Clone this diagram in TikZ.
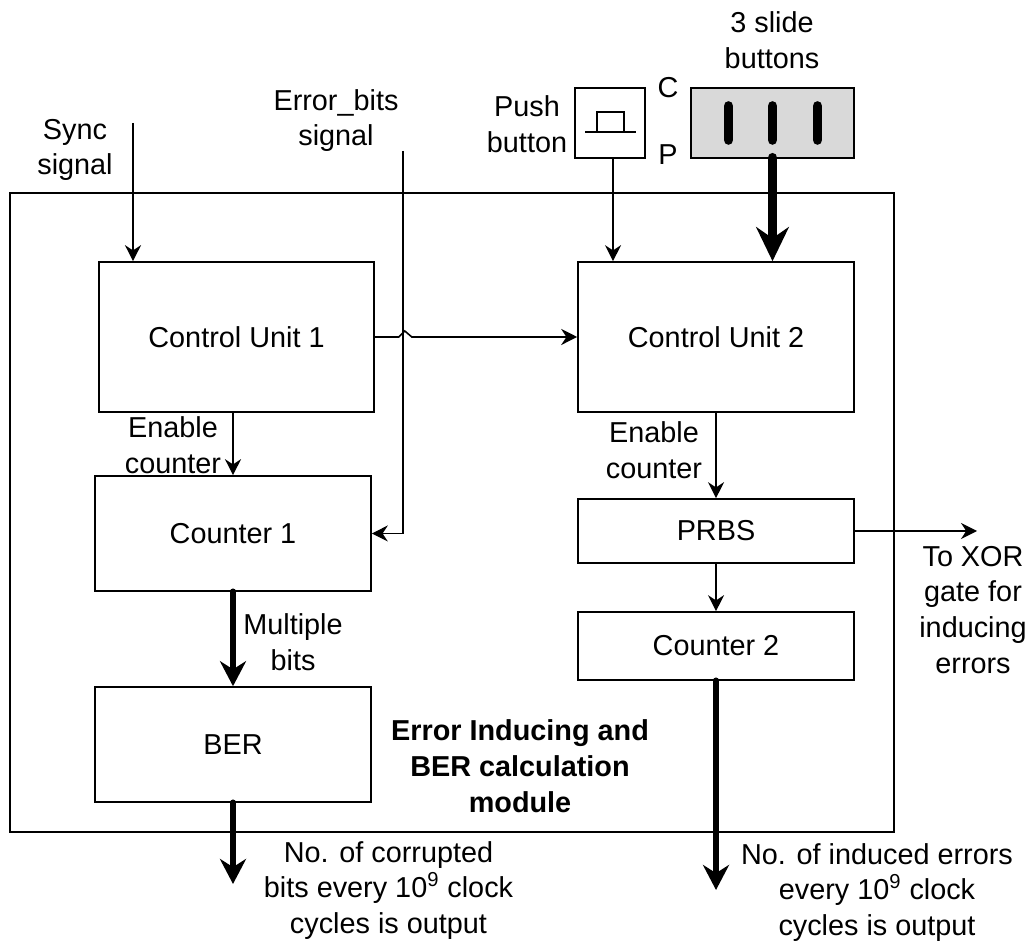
\documentclass[tikz,border=0pt]{standalone}
\usepackage{fontspec}
\setmainfont{Liberation Sans}
\usepackage{tikz}
\usetikzlibrary{calc}
\usetikzlibrary{arrows.meta}
\tikzstyle{blocknode}=[black, draw=black, line width=0.9pt, shape=rectangle, fill=white, inner sep=0pt, align=center, font=\fontsize{16.4}{20.4}\selectfont]
\tikzstyle{textnode}=[black, shape=rectangle, inner sep=0pt, align=center, font=\fontsize{16.4}{20.4}\selectfont]
\tikzstyle{thinarrow}=[-{Stealth[length=0.32cm, width=0.32cm]}, line width=0.9pt, color=black]
\tikzstyle{thickarrow}=[-{Stealth[length=0.5cm, width=0.52cm]}, line width=3.8pt, line cap=round, color=black]
\tikzstyle{slidearrow}=[-{Stealth[length=0.68cm, width=0.65cm]}, line width=5.5pt, line cap=round, color=black]
\tikzstyle{slidebar}=[line width=5.5pt, line cap=round, color=black]

\begin{document}
\begin{tikzpicture}
\useasboundingbox (0,0) rectangle (20.62,18.8);

\node [blocknode, minimum width=17.68cm, minimum height=12.78cm] (module) at (9.04,8.55) {};
\node [blocknode, minimum width=5.5cm, minimum height=3cm] (cu1) at (4.73,12.06) {Control Unit 1};
\node [blocknode, minimum width=5.52cm, minimum height=3cm] (cu2) at (14.32,12.06) {Control Unit 2};
\node [blocknode, minimum width=5.52cm, minimum height=2.3cm] (counter1) at (4.66,8.13) {Counter 1};
\node [blocknode, minimum width=5.52cm, minimum height=2.3cm] (ber) at (4.66,3.91) {BER};
\node [blocknode, minimum width=5.52cm, minimum height=1.28cm] (prbs) at (14.32,8.18) {PRBS};
\node [blocknode, minimum width=5.52cm, minimum height=1.36cm] (counter2) at (14.32,5.88) {Counter 2};
\node [blocknode, line width=1.4pt, minimum width=1.4cm, minimum height=1.4cm] (push) at (12.2,16.34) {};
\node [blocknode, fill=black!15!white, minimum width=3.26cm, minimum height=1.4cm] (slide) at (15.45,16.34) {};

\coordinate (syncin) at (2.66,16.34);
\coordinate (errin) at (8.06,15.78);
\coordinate (pushout) at ($(push.south)+(0.06,0)$);
\coordinate (slideout) at ($(slide.south)+(0,0.02)$);
\coordinate (berout) at (4.66,1.12);
\coordinate (cntout) at (14.32,1.0);
\coordinate (xorout) at (19.54,8.18);

\draw[line width=1.2pt] ($(push.center)+(-0.5,-0.18)$) -- ($(push.center)+(0.52,-0.18)$);
\draw[line width=1.2pt] ($(push.center)+(-0.26,-0.18)$) -- ($(push.center)+(-0.26,0.22)$) -- ($(push.center)+(0.28,0.22)$) -- ($(push.center)+(0.28,-0.18)$);
\draw[slidebar] ($(slide.center)+(-0.88,-0.34)$) -- ($(slide.center)+(-0.88,0.34)$);
\draw[slidebar] ($(slide.center)+(0,-0.34)$) -- ($(slide.center)+(0,0.34)$);
\draw[slidebar] ($(slide.center)+(0.9,-0.34)$) -- ($(slide.center)+(0.9,0.34)$);

\draw[thinarrow] (syncin) -- (syncin |- cu1.north);
\draw[thinarrow, line width=0.7pt] (errin) |- (counter1.east);
\draw[thinarrow] (pushout) -- (pushout |- cu2.north);
\draw[slidearrow] (slideout) -- (slideout |- cu2.north);
\draw[thinarrow] (cu1.east) -- ++(0.48,0) -- ++(0.12,0.12) -- ++(0.14,-0.12) -- (cu2.west);
\draw[thinarrow] (counter1.north |- cu1.south) -- (counter1.north);
\draw[thickarrow] (counter1.south) -- (ber.north);
\draw[thickarrow] (ber.south) -- (berout);
\draw[thinarrow] (cu2.south) -- (prbs.north);
\draw[thinarrow] (prbs.south) -- (counter2.north);
\draw[thinarrow] (prbs.east) -- (xorout);
\draw[thickarrow] (counter2.south) -- (cntout);

\node [textnode] (synclabel) at (1.5,15.8) {Sync\\signal};
\node [textnode] (errlabel) at (6.72,16.39) {Error\_bits\\signal};
\node [textnode] (pushlabel) at (10.54,16.32) {Push\\button};
\node [textnode] (clabel) at (13.36,17.04) {C};
\node [textnode] (plabel) at (13.36,15.7) {P};
\node [textnode] (slidelabel) at (15.44,18.0) {3 slide\\buttons};
\node [textnode] (enable1) at (3.46,9.9) {Enable\\counter};
\node [textnode] (enable2) at (13.08,9.8) {Enable\\counter};
\node [textnode] (multilabel) at (5.86,5.95) {Multiple\\bits};
\node [textnode] (xorlabel) at (19.46,6.6) {To XOR\\gate for\\inducing\\errors};
\node [textnode, font=\fontsize{16.4}{20.4}\selectfont\bfseries] (title) at (10.4,3.48) {Error Inducing and\\BER calculation\\module};
\node [textnode] (berlabel) at (7.77,0.99) {No. of corrupted\\bits every 10\textsuperscript{9} clock\\cycles is output};
\node [textnode] (cntlabel) at (17.54,0.95) {No. of induced errors\\every 10\textsuperscript{9} clock\\cycles is output};
\end{tikzpicture}
\end{document}
